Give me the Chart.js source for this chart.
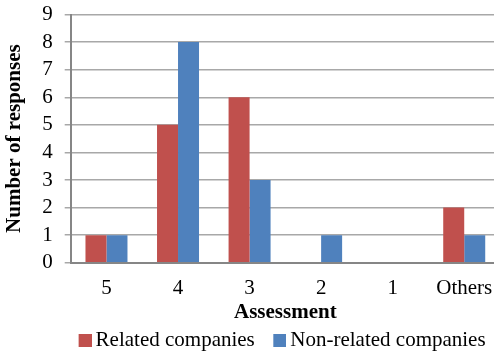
<!DOCTYPE html>
<html>
<head>
<meta charset="utf-8">
<script src="https://cdn.jsdelivr.net/npm/chart.js@4.4.1/dist/chart.umd.min.js"></script>
<style>
  html, body { margin: 0; padding: 0; background: #fff; overflow: hidden; }
  #wrap { position: relative; width: 500px; height: 361px; }
</style>
</head>
<body>
<div id="wrap"><canvas id="c"></canvas></div>
<script>
// Survey answers per assessment grade
const categories = ['5', '4', '3', '2', '1', 'Others'];
const relatedCompanies = [1, 5, 6, 0, 0, 2];
const nonRelatedCompanies = [1, 8, 3, 1, 0, 1];
const seriesNames = ['Related companies', 'Non-related companies'];
const seriesColors = ['#c0504d', '#4f81bd'];
const yTicks = [0, 1, 2, 3, 4, 5, 6, 7, 8, 9];

const serif = '"Liberation Serif", "Times New Roman", serif';
const FONT_SIZE = 21;

// Legend swatch: a square that sits close to its label text
const LEGEND_BOX = 18;
const SWATCH = 13;
function squareMarker(color) {
  const c = document.createElement('canvas');
  c.width = LEGEND_BOX + SWATCH;
  c.height = SWATCH;
  const g = c.getContext('2d');
  g.fillStyle = color;
  g.fillRect(LEGEND_BOX, 0, SWATCH, SWATCH);
  return c;
}
const markers = seriesColors.map(squareMarker);

// Pull the legend's left edge in so its items centre under the plot area
const legendOffset = -18;
const legendUnderPlot = {
  id: 'legendUnderPlot',
  afterLayout(chart) {
    const lg = chart.legend, ca = chart.chartArea;
    if (!lg || !ca) return;
    lg.left = ca.left + legendOffset;
  }
};

// fit() reserves the tick padding a second time; hand that space back
const trimX = (scale) => { scale.paddingLeft = 0; scale.paddingRight = 0; scale.height -= scale.options.ticks.padding; };
const trimY = (scale) => { scale.paddingTop = 0; scale.paddingBottom = 0; scale.width -= scale.options.ticks.padding; };

new Chart(document.getElementById('c'), {
  type: 'bar',
  data: {
    labels: categories,
    datasets: [
      { label: seriesNames[0], data: relatedCompanies, backgroundColor: seriesColors[0], borderWidth: 0 },
      { label: seriesNames[1], data: nonRelatedCompanies, backgroundColor: seriesColors[1], borderWidth: 0 }
    ]
  },
  plugins: [legendUnderPlot],
  options: {
    responsive: true,
    maintainAspectRatio: false,
    animation: false,
    layout: { padding: { left: 0, right: 0, top: 14.5, bottom: 0 } },
    datasets: { bar: { barPercentage: 1.0, categoryPercentage: 0.587 } },
    plugins: {
      tooltip: { enabled: false },
      legend: {
        position: 'bottom',
        labels: {
          font: { family: serif, size: FONT_SIZE },
          color: '#000',
          usePointStyle: true,
          pointStyleWidth: LEGEND_BOX,
          padding: 7,
          generateLabels(chart) {
            const items = Chart.defaults.plugins.legend.labels.generateLabels(chart);
            items.forEach((it, i) => { it.pointStyle = markers[i]; });
            return items;
          }
        }
      }
    },
    scales: {
      x: {
        afterFit: trimX,
        grid: { display: false, drawTicks: false },
        border: { color: '#868686', width: 2 },
        ticks: { font: { family: serif, size: FONT_SIZE }, color: '#000', padding: 13, autoSkip: false, maxRotation: 0 },
        title: {
          display: true,
          text: 'Assessment',
          font: { family: serif, size: FONT_SIZE, weight: 'bold', lineHeight: 1.0 },
          color: '#000',
          padding: { top: 1, bottom: 0 }
        }
      },
      y: {
        min: 0,
        max: 9,
        afterBuildTicks: (axis) => { axis.ticks = yTicks.map(v => ({ value: v })); },
        afterFit: trimY,
        grid: { color: '#a8a8a8', lineWidth: 1.5, tickLength: 6 },
        border: { color: '#868686', width: 2 },
        ticks: { font: { family: serif, size: FONT_SIZE }, color: '#000', padding: 12, autoSkip: false },
        title: {
          display: true,
          text: 'Number of responses',
          font: { family: serif, size: FONT_SIZE, weight: 'bold' },
          color: '#000',
          padding: { top: 2, bottom: 15 }
        }
      }
    }
  }
});
</script>
</body>
</html>
